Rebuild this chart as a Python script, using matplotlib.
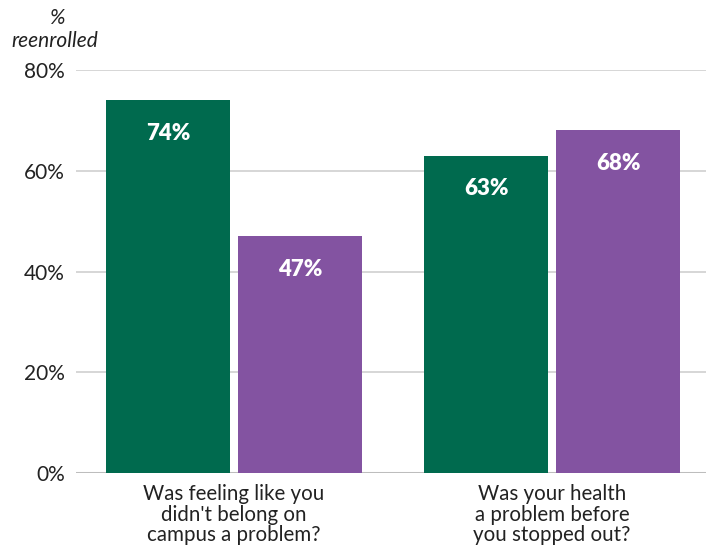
import matplotlib
matplotlib.use("Agg")
import matplotlib.pyplot as plt
import numpy as np

plt.rcParams['font.family'] = ['Lato', 'DejaVu Sans']

categories = ["Was feeling like you\ndidn't belong on\ncampus a problem?",
              "Was your health\na problem before\nyou stopped out?"]
green_vals = [74, 63]
purple_vals = [47, 68]
yticks = [0, 20, 40, 60, 80]

green = '#006a4e'
purple = '#8353a1'

fig = plt.figure(figsize=(7.06, 5.48), dpi=100)
ax = fig.add_axes([76/706, 75/548, 630/706, 403/548])

x = np.arange(len(categories))
w = 0.39
off = 0.2075
b1 = ax.bar(x - off, green_vals, w, color=green, zorder=3)
b2 = ax.bar(x + off, purple_vals, w, color=purple, zorder=3)

for bars, vals in [(b1, green_vals), (b2, purple_vals)]:
    for r, v in zip(bars, vals):
        ax.annotate(f'{v}%', (r.get_x() + r.get_width()/2, v),
                    xytext=(0, -24), textcoords='offset points',
                    ha='center', va='center', color='white',
                    fontsize=16, fontweight='heavy', zorder=4)

ax.set_xlim(-0.497, 1.484)
ax.set_ylim(0, 80)
ax.set_yticks(yticks)
ax.set_yticklabels([f'{t}%' for t in yticks], fontsize=15, color='#222222')
ax.set_xticks(x)
ax.set_xticklabels(categories, fontsize=14.8, color='#222222', linespacing=1.03)
ax.tick_params(length=0)
ax.tick_params(axis='y', pad=8)
ax.tick_params(axis='x', pad=8)

for t in yticks[1:]:
    ax.axhline(t, color='#d0d0d0', lw=1.2, zorder=1)
ax.axhline(0, color='#bdbdbd', lw=2.2, zorder=2)

for s in ax.spines.values():
    s.set_visible(False)

fig.text(57/706, 1 - 18/548, '%', ha='center', va='center', fontsize=15,
         style='italic', color='#222222')
fig.text(55/706, 1 - 41/548, 'reenrolled', ha='center', va='center',
         fontsize=15, style='italic', color='#222222')

fig.savefig('out.png', dpi=100)
